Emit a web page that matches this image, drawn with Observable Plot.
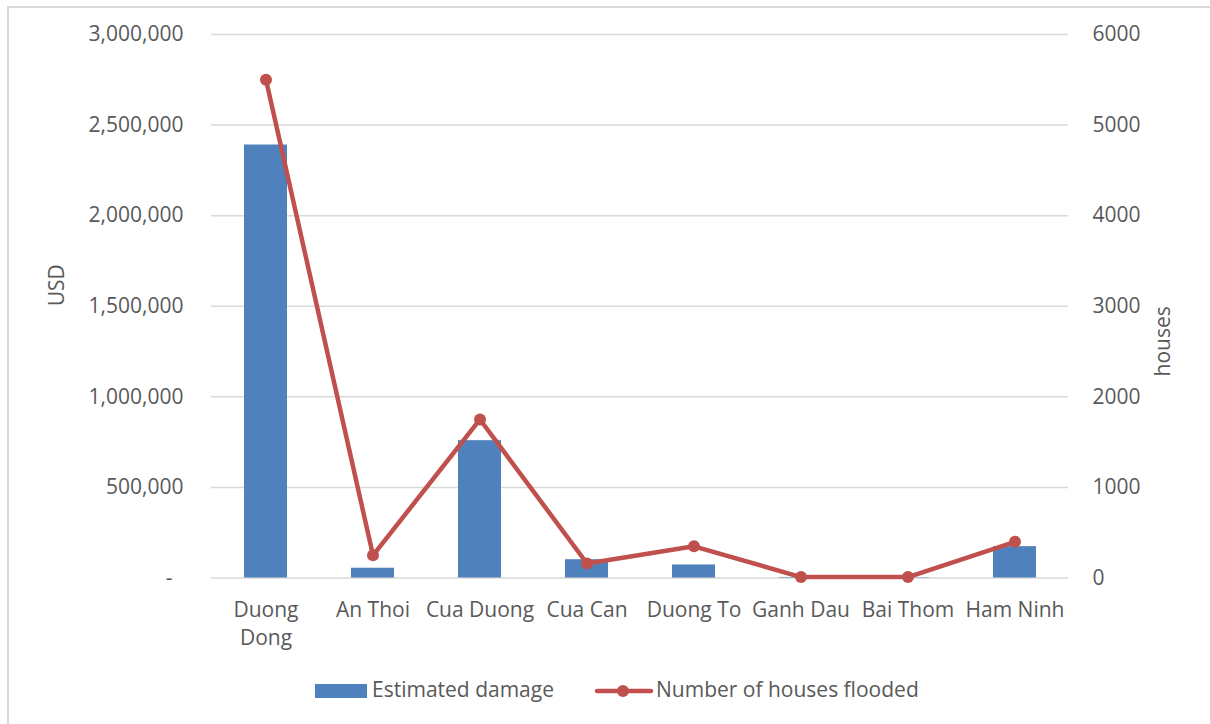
<!DOCTYPE html>
<html>
<head>
<meta charset="utf-8">
<script src="https://cdn.jsdelivr.net/npm/d3@7"></script>
<script src="https://cdn.jsdelivr.net/npm/@observablehq/plot@0.6"></script>
<style>
  html, body { margin: 0; padding: 0; background: #fff; }
  body { width: 1210px; height: 724px; position: relative; overflow: hidden; font-family: "Open Sans", sans-serif; }
  #frame { position: absolute; left: 7px; top: 6px; width: 1230px; height: 740px; border: 2px solid #d9d9d9; box-sizing: border-box; }
  #chart { position: absolute; left: 0; top: 0; }
  .leg { position: absolute; font-size: 21px; color: #595959; line-height: 1; white-space: nowrap; }
</style>
</head>
<body>
<div id="frame"></div>
<div id="chart"></div>
<div id="legend"></div>
<script>
const categories = ["Duong Dong", "An Thoi", "Cua Duong", "Cua Can", "Duong To", "Ganh Dau", "Bai Thom", "Ham Ninh"];
const damageUSD = [2390000, 54000, 758000, 101000, 72000, 3000, 2000, 173000];
const housesFlooded = [5500, 250, 1750, 160, 350, 10, 10, 400];
const usdTicks = [0, 500000, 1000000, 1500000, 2000000, 2500000, 3000000];
const houseTicks = [0, 1000, 2000, 3000, 4000, 5000, 6000];
const seriesNames = ["Estimated damage", "Number of houses flooded"];

const ratio = 3000000 / 6000; // right axis (houses) mapped onto left (USD) scale
const data = categories.map((c, i) => ({name: c, damage: damageUSD[i], houses: housesFlooded[i]}));

const BLUE = "#4F81BD", RED = "#C0504D", TEXT = "#595959", GRID = "#d9d9d9";

const chart = Plot.plot({
  width: 1210,
  height: 660,
  marginLeft: 211,
  marginRight: 142,
  marginTop: 34,
  marginBottom: 82.5,
  style: {fontFamily: "Open Sans, sans-serif", fontSize: "21px", color: TEXT, background: "transparent"},
  x: {domain: categories, paddingInner: 0.6, paddingOuter: 0.3, label: null},
  y: {domain: [0, 3000000], label: null},
  marks: [
    Plot.gridY(usdTicks, {stroke: GRID, strokeOpacity: 1, strokeWidth: 1.5}),
    Plot.barY(data, {x: "name", y: "damage", fill: BLUE}),
    Plot.lineY(data, {x: "name", y: d => d.houses * ratio, stroke: RED, strokeWidth: 4.5, strokeLinejoin: "round"}),
    Plot.dot(data, {x: "name", y: d => d.houses * ratio, r: 6, fill: RED, stroke: null}),
    Plot.axisY(usdTicks, {anchor: "left", tickSize: 0, tickPadding: 28, label: null,
      tickFormat: d => d === 0 ? "-\u00a0\u00a0" : d3.format(",")(d), fill: TEXT}),
    Plot.axisY(houseTicks.map(t => t * ratio), {anchor: "right", tickSize: 0, tickPadding: 24, label: null,
      tickFormat: d => String(Math.round(d / ratio)), fill: TEXT}),
    Plot.axisX({tickSize: 0, tickPadding: 19.5, label: null, lineHeight: 1.33, fill: TEXT,
      tickFormat: d => d === "Duong Dong" ? "Duong\nDong" : d}),
    Plot.text(["USD"], {frameAnchor: "left", dx: -154, rotate: -90, fill: TEXT, fontSize: 21}),
    Plot.text(["houses"], {frameAnchor: "right", dx: 95, rotate: -90, fill: TEXT, fontSize: 21})
  ]
});
document.getElementById("chart").appendChild(chart);

// Legend
const leg = document.getElementById("legend");
leg.innerHTML = `
  <div style="position:absolute;left:315px;top:684px;width:52px;height:14px;background:${BLUE}"></div>
  <div class="leg" style="left:372px;top:679px">${seriesNames[0]}</div>
  <svg style="position:absolute;left:594px;top:681px" width="62" height="20">
    <line x1="3" y1="10" x2="57" y2="10" stroke="${RED}" stroke-width="4.5" stroke-linecap="round"/>
    <circle cx="29" cy="10" r="6" fill="${RED}"/>
  </svg>
  <div class="leg" style="left:656px;top:679px">${seriesNames[1]}</div>
`;
</script>
</body>
</html>
